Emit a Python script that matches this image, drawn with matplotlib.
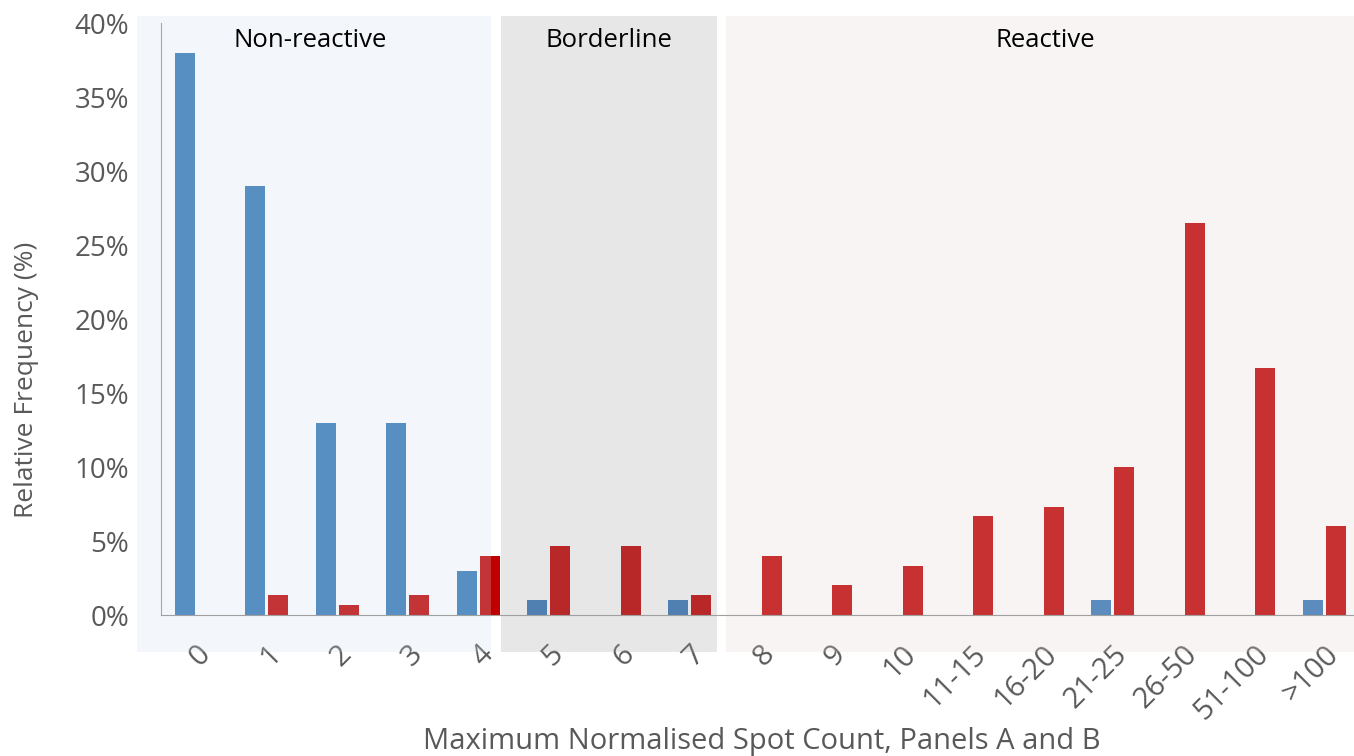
# Relative frequency of max normalised spot count, two panels overlaid
import numpy as np
import matplotlib.pyplot as plt
import matplotlib.transforms as mtransforms
from matplotlib.patches import Rectangle
from matplotlib.ticker import PercentFormatter

plt.rcParams['font.family'] = ['Open Sans', 'DejaVu Sans']

# Data (percent)
categories = ['0', '1', '2', '3', '4', '5', '6', '7', '8', '9', '10',
              '11-15', '16-20', '21-25', '26-50', '51-100', '>100']
blue_vals = [38.0, 29.0, 13.0, 13.0, 3.0, 1.0, 0.0, 1.0, 0.0, 0.0, 0.0,
             0.0, 0.0, 1.0, 0.0, 0.0, 1.0]
red_vals = [0.0, 1.33, 0.67, 1.33, 4.0, 4.67, 4.67, 1.33, 4.0, 2.0, 3.33,
            6.67, 7.33, 10.0, 26.5, 16.67, 6.0]

regions = ['Non-reactive', 'Borderline', 'Reactive']

blue = '#3376b7'
red = '#c00000'
grey_txt = '#595959'

# Figure
fig = plt.figure(figsize=(13.54, 7.56), dpi=100)
ax = fig.add_axes([161 / 1354, 141 / 756, 1198.5 / 1354, 592 / 756])

x = np.arange(len(categories))
w = 0.28
off = 0.163
ax.bar(x - off, blue_vals, width=w, color=blue, zorder=2)
ax.bar(x + off, red_vals, width=w, color=red, zorder=2)

ax.set_xlim(-0.5, len(categories) - 0.5)
ax.set_ylim(0, 40)

# semi-transparent category panels drawn over the bars
trans = mtransforms.blended_transform_factory(ax.transData, ax.transAxes)
panels = [(-0.84, 4.18, '#d0e1ee', 0.235),
          (4.32, 7.39, '#a1a1a1', 0.255),
          (7.51, 16.6, '#e5d4d4', 0.235)]
label_x = [1.61, 5.85, 12.04]
for (x0, x1, c, a), name, xm in zip(panels, regions, label_x):
    ax.add_patch(Rectangle((x0, -0.0625), x1 - x0, 1.0743, transform=trans,
                           facecolor=c, alpha=a, edgecolor='none',
                           zorder=3, clip_on=False))
    ax.text(xm, 0.970, name, transform=trans, ha='center', va='center',
            fontsize=18.5, color='black', zorder=5)

# axes styling
for s in ['top', 'right']:
    ax.spines[s].set_visible(False)
ax.spines['left'].set_color('#a6a6a6')
ax.spines['bottom'].set_color('#a0a0a0')
ax.spines['left'].set_zorder(4)
ax.spines['bottom'].set_zorder(4)

ax.yaxis.set_major_formatter(PercentFormatter(decimals=0))
ax.set_yticks(np.arange(0, 41, 5))
ax.tick_params(axis='y', length=0, pad=23, labelsize=20, labelcolor=grey_txt)

ax.set_xticks(x)
ax.set_xticklabels(categories, rotation=45, ha='right', va='top',
                   rotation_mode='anchor')
ax.tick_params(axis='x', length=0, pad=18, labelsize=21, labelcolor=grey_txt)

fig.text(27 / 1354, 1 - 380 / 756, 'Relative Frequency (%)', rotation=90,
         ha='center', va='center', fontsize=19, color=grey_txt)
fig.text(762 / 1354, 15 / 756, 'Maximum Normalised Spot Count, Panels A and B',
         ha='center', va='center', fontsize=21, color=grey_txt)

fig.savefig('out.png', dpi=100)
